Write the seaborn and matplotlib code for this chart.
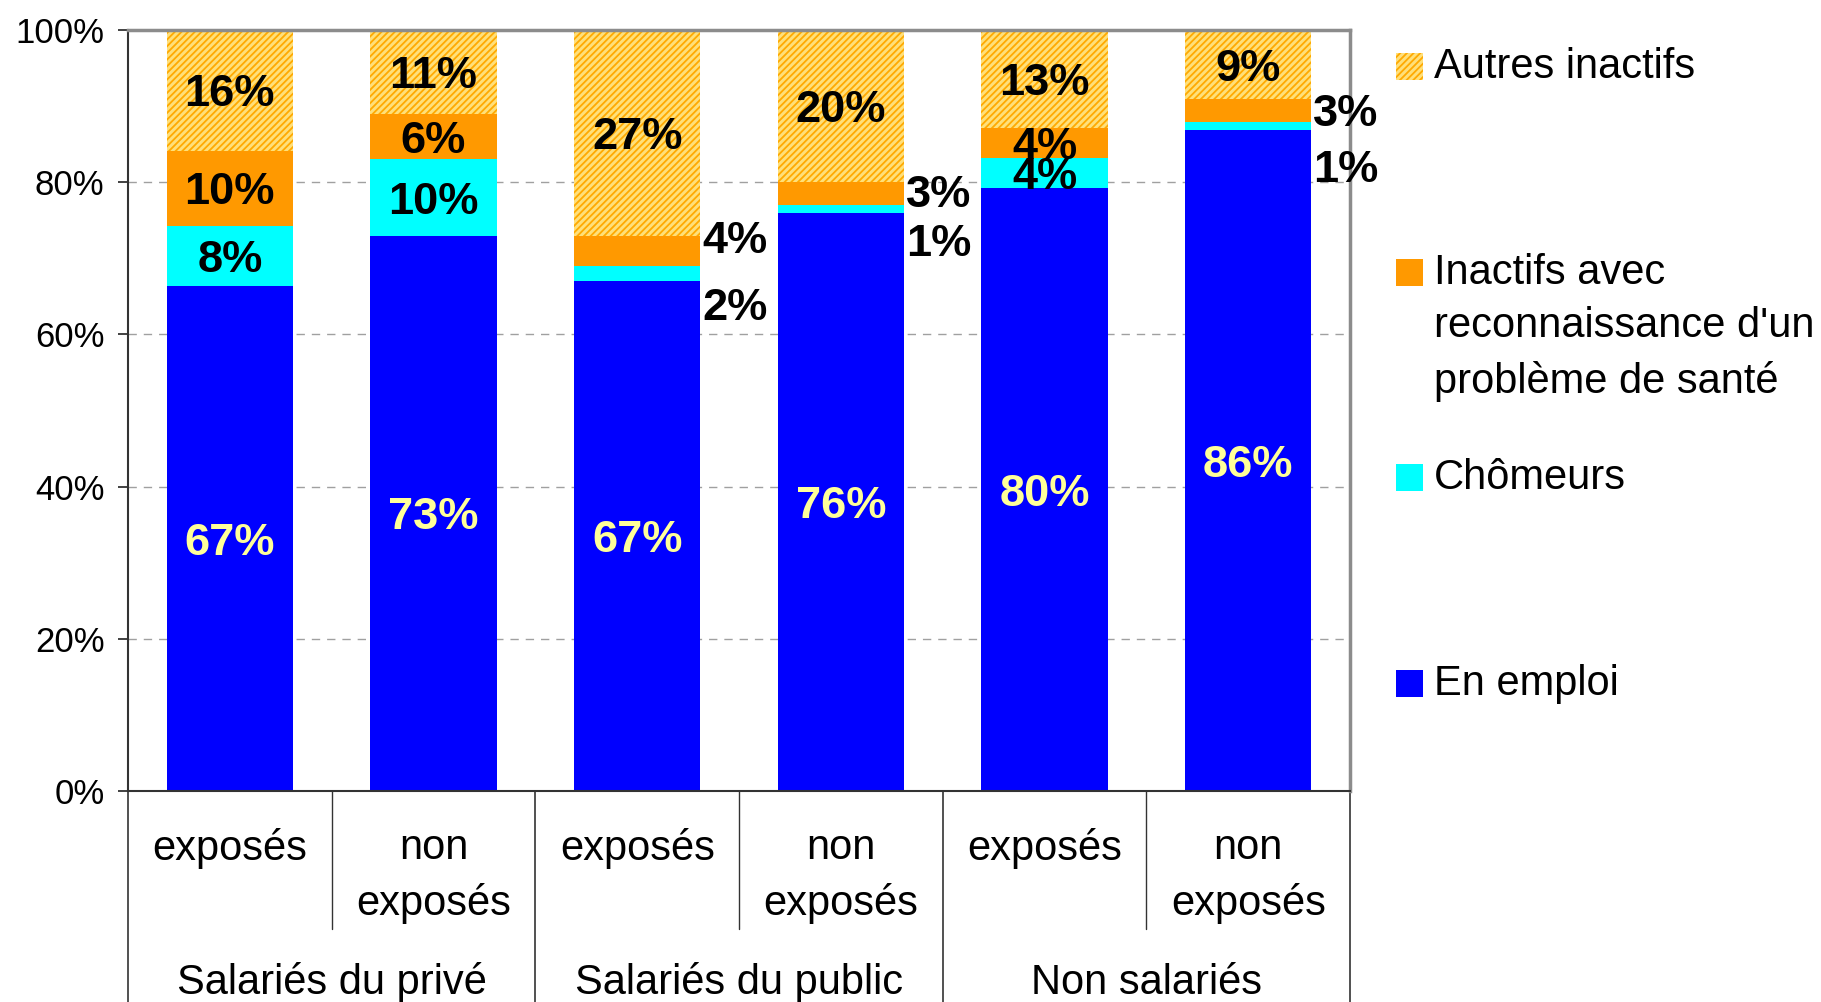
import pandas as pd
import numpy as np
import matplotlib
matplotlib.use("Agg")
import matplotlib.pyplot as plt
import seaborn as sns
from matplotlib.patches import Rectangle

# --- donnees (en %) ---
groupes = ["Salariés du privé", "Salariés du public", "Non salariés"]
sous_cat = ["exposés", "non\nexposés"]
series = ["En emploi", "Chômeurs",
          "Inactifs avec\nreconnaissance d'un\nproblème de santé",
          "Autres inactifs"]
en_emploi = [67, 73, 67, 76, 80, 86]
chomeurs = [8, 10, 2, 1, 4, 1]
inactifs_sante = [10, 6, 4, 3, 4, 3]
autres_inactifs = [16, 11, 27, 20, 13, 9]

couleurs = ["#0000FF", "#00FFFF", "#FF9900", "#FFE07A"]
hachure = "/////"
coul_hachure = "#FFAA00"

sns.set_theme(style="white")
plt.rcParams["font.family"] = ["Liberation Sans", "DejaVu Sans"]
plt.rcParams["text.color"] = "black"
plt.rcParams["ytick.labelcolor"] = "black"
plt.rcParams["hatch.color"] = coul_hachure
plt.rcParams["hatch.linewidth"] = 1.3

cats = [f"{g} {s}" for g in groupes for s in sous_cat]
df = pd.DataFrame({"cat": cats,
                   series[0]: en_emploi,
                   series[1]: chomeurs,
                   series[2]: inactifs_sante,
                   series[3]: autres_inactifs})
# graphique en 100 % empile : on normalise chaque barre
vals = df[series].to_numpy(dtype=float)
parts = vals / vals.sum(axis=1, keepdims=True) * 100
bas = np.zeros(len(df))

fig = plt.figure(figsize=(18.21, 10.02), dpi=100)
ax = fig.add_axes([0.0703, 0.2106, 0.6711, 0.7594])

largeur = 0.62
for i, s in enumerate(series):
    tmp = pd.DataFrame({"cat": cats, "val": parts[:, i]})
    n_avant = len(ax.patches)
    sns.barplot(data=tmp, x="cat", y="val", ax=ax, color=couleurs[i],
                saturation=1, width=largeur, bottom=bas, linewidth=0)
    if i == 3:
        for p in ax.patches[n_avant:]:
            p.set_hatch(hachure)
            p.set_edgecolor(coul_hachure)
            p.set_linewidth(0)
    bas = bas + parts[:, i]

ax.set_xlim(-0.5, 5.5)
ax.set_ylim(0, 100)
ax.set_yticks(range(0, 101, 20))
ax.set_yticklabels([f"{v}%" for v in range(0, 101, 20)], fontsize=25)
ax.tick_params(axis="y", length=7, width=1.3, color="#333333", pad=10, left=True)
ax.tick_params(axis="x", length=0)
ax.set_xticklabels([])
ax.set_xlabel("")
ax.set_ylabel("")
for v in [20, 40, 60, 80]:
    ax.axhline(v, color="#A0A0A0", lw=1, ls=(0, (6, 5)), zorder=0)

for sp in ["left", "bottom"]:
    ax.spines[sp].set_color("#333333")
    ax.spines[sp].set_linewidth(1.5)
for sp in ["top", "right"]:
    ax.spines[sp].set_color("#8C8C8C")
    ax.spines[sp].set_linewidth(2.5)

# etiquettes de valeurs (petites valeurs sorties a droite de la barre)
dehors = {2: {1: -4.0, 2: 1.8}, 3: {1: -4.1, 2: 0.3}, 5: {1: -5.2, 2: 0.1}}
bas = np.zeros(len(df))
for i in range(len(series)):
    for j in range(len(df)):
        centre = bas[j] + parts[j, i] / 2 - 0.6
        txt = f"{int(vals[j, i])}%"
        couleur = "#FFFF99" if i == 0 else "black"
        moved = dehors.get(j, {})
        if i in moved:
            ax.text(j + 0.48, centre + moved[i], txt, ha="center", va="center",
                    fontsize=32.5, fontweight="bold", color="black", clip_on=False)
        else:
            ax.text(j, centre, txt, ha="center", va="center",
                    fontsize=32.5, fontweight="bold", color=couleur)
    bas = bas + parts[:, i]

# axe des categories a deux niveaux
trans = ax.get_xaxis_transform()
for j in range(len(cats)):
    lab = sous_cat[j % 2]
    ax.text(j, -0.049, lab, transform=trans, ha="center", va="top",
            fontsize=30, linespacing=1.45)
for k, g in enumerate(groupes):
    ax.text(2 * k + 0.5, -0.252, g, transform=trans, ha="center", va="center", fontsize=30)
for k in range(4):
    ax.plot([2 * k - 0.5] * 2, [0, -0.28], transform=trans, color="#333333",
            lw=1.2, clip_on=False)
for k in range(3):
    ax.plot([2 * k + 0.5] * 2, [0, -0.181], transform=trans, color="#333333",
            lw=1.0, clip_on=False)

# legende (ordre inverse, comme Excel)
ys = [0.9335, 0.7285, 0.523, 0.318]
pw, ph = 0.0148, 0.027
for y, s, c in zip(ys, series[::-1], couleurs[::-1]):
    est_hach = s == "Autres inactifs"
    rect = Rectangle((0.7666, y - ph / 2), pw, ph, transform=fig.transFigure,
                     facecolor=c, edgecolor=coul_hachure if est_hach else "none",
                     linewidth=0, hatch=hachure if est_hach else None)
    fig.patches.append(rect)
    fig.text(0.7875, y + 0.0195, s, ha="left", va="top", fontsize=30, linespacing=1.45)

fig.savefig("out.png", dpi=100)
